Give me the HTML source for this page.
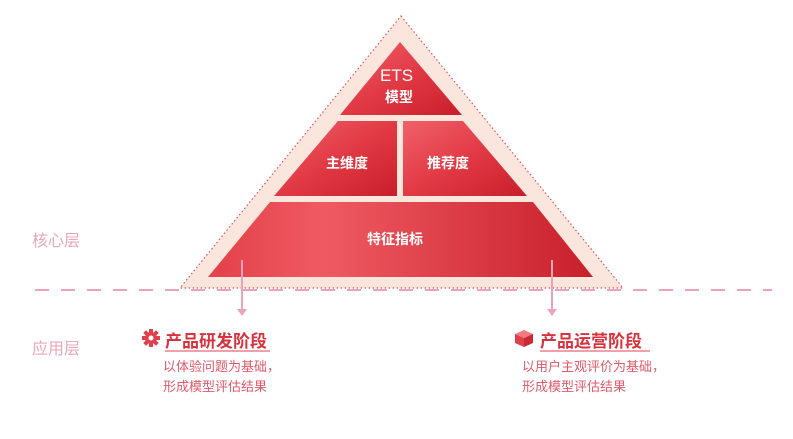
<!DOCTYPE html>
<html><head><meta charset="utf-8"><style>
body{margin:0;background:#fff;width:793px;height:439px;overflow:hidden;position:relative;font-family:"Liberation Sans","Noto Sans CJK SC",sans-serif}
.t{position:absolute;white-space:nowrap}
</style></head><body>
<svg width="793" height="439" style="position:absolute;left:0;top:0">
<defs>
<linearGradient id="g" x1="0" y1="0" x2="1" y2="1">
<stop offset="0" stop-color="#f0616a"/><stop offset="0.5" stop-color="#e23a45"/><stop offset="1" stop-color="#c81e2b"/>
</linearGradient>
<linearGradient id="g2" x1="0" y1="0" x2="1" y2="0">
<stop offset="0" stop-color="#e3404a"/><stop offset="0.3" stop-color="#ef5a62"/><stop offset="1" stop-color="#c8202c"/>
</linearGradient>
</defs>
<polygon points="401,16 623,288 180,288" fill="#fae6dd" stroke="#e0505a" stroke-width="1.2" stroke-dasharray="1.5,2.5"/>
<polygon points="400,42 462,115 340,115" fill="url(#g)"/>
<polygon points="338,121 397,121 397,196 274,196" fill="url(#g)"/>
<polygon points="403,121 463,121 527,196 403,196" fill="url(#g)"/>
<polygon points="270,202 533,202 593,277 208,277" fill="url(#g2)"/>
<line x1="35" y1="290" x2="772" y2="290" stroke="#eaa3b9" stroke-width="2" stroke-dasharray="14,12"/>
<line x1="242" y1="260" x2="242" y2="310" stroke="#e9a3bb" stroke-width="2"/>
<polygon points="237,309 247,309 242,316" fill="#e9a3bb"/>
<line x1="552" y1="260" x2="552" y2="310" stroke="#e9a3bb" stroke-width="2"/>
<polygon points="547,309 557,309 552,316" fill="#e9a3bb"/>
<line x1="165" y1="351" x2="270" y2="351" stroke="#ec8088" stroke-width="1.5"/>
<line x1="540" y1="351" x2="650" y2="351" stroke="#ec8088" stroke-width="1.5"/>
<g transform="translate(151,338)" fill="#e0404c">
<circle r="6"/>
<g><rect x="-2" y="-9" width="4" height="18"/><rect x="-2" y="-9" width="4" height="18" transform="rotate(45)"/><rect x="-2" y="-9" width="4" height="18" transform="rotate(90)"/><rect x="-2" y="-9" width="4" height="18" transform="rotate(135)"/></g>
<circle r="2.5" fill="#fff"/>
</g>
<g transform="translate(524,338)">
<polygon points="0,-8 9,-4 0,0 -9,-4" fill="#f07a80"/>
<polygon points="-9,-4 0,0 0,9 -9,5" fill="#e0404c"/>
<polygon points="9,-4 0,0 0,9 9,5" fill="#c82a36"/>
</g>
</svg>
<div class="t" style="left:380px;top:66px;color:#fff;font-size:17px">ETS</div>
<div class="t" style="left:385px;top:87px;color:#fff;font-size:14px;font-weight:bold">模型</div>
<div class="t" style="left:326px;top:153px;color:#fff;font-size:14px;font-weight:bold">主维度</div>
<div class="t" style="left:427px;top:153px;color:#fff;font-size:14px;font-weight:bold">推荐度</div>
<div class="t" style="left:367px;top:229px;color:#fff;font-size:14px;font-weight:bold">特征指标</div>
<div class="t" style="left:32px;top:227px;color:#e9a7ba;font-size:16px">核心层</div>
<div class="t" style="left:32px;top:335px;color:#e9a7ba;font-size:16px">应用层</div>
<div class="t" style="left:165px;top:327px;color:#d8323f;font-size:17px;font-weight:bold">产品研发阶段</div>
<div class="t" style="left:540px;top:327px;color:#d8323f;font-size:17px;font-weight:bold">产品运营阶段</div>
<div class="t" style="left:163px;top:357px;color:#e05a6a;font-size:13px;line-height:20px">以体验问题为基础，<br>形成模型评估结果</div>
<div class="t" style="left:522px;top:357px;color:#e05a6a;font-size:13px;line-height:20px">以用户主观评价为基础，<br>形成模型评估结果</div>
</body></html>
